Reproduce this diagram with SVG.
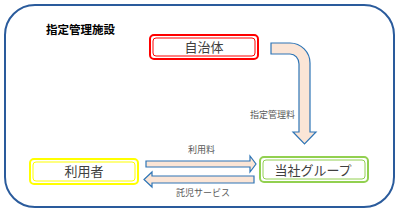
<svg xmlns="http://www.w3.org/2000/svg" width="400" height="212" viewBox="0 0 400 212">
<style>
.box{font-family:"Noto Sans CJK JP","Noto Sans",sans-serif;font-size:13px;fill:#404040;text-anchor:middle}
.lbl{font-family:"Noto Sans CJK JP","Noto Sans",sans-serif;font-size:9px;fill:#595959;text-anchor:middle}
.title{font-family:"Noto Sans CJK JP","Noto Sans",sans-serif;font-size:11.5px;font-weight:bold;fill:#000}
.arrow{fill:#fbe5d6;stroke:#2e75b6;stroke-width:1.2;stroke-linejoin:miter}
</style>
<rect width="400" height="212" fill="#fff"/>
<g id="frame">
<rect x="5" y="5" width="389" height="202" rx="30" ry="30" fill="none" stroke="#2a5b9c" stroke-width="2"/>
<text class="title" x="46" y="34">指定管理施設</text>
</g>
<g id="connectors">
<path class="arrow" d="M271,43 H290 A20,20 0 0 1 310,63 V132 H316 L304.5,144 L293,132 H299 V64 A9,10 0 0 0 290,54 H271 Z"/>
<path class="arrow" d="M146,161 H250 V156 L256,164 L250,172 V167 H146 Z"/>
<path class="arrow" d="M254,176 H152 V172 L144,179.5 L152,187 V183 H254 Z"/>
<text class="lbl" x="272.5" y="118">指定管理料</text>
<text class="lbl" x="201.5" y="153">利用料</text>
<text class="lbl" x="203" y="196">託児サービス</text>
</g>
<g id="jichitai">
<rect x="150" y="35" width="108" height="24" rx="4" fill="#fff" stroke="#ff0000" stroke-width="2"/>
<rect x="153" y="38" width="102" height="18" rx="3" fill="none" stroke="#ff0000" stroke-width="1"/>
<text class="box" x="204" y="52">自治体</text>
</g>
<g id="riyosha">
<rect x="30" y="159" width="108" height="25" rx="4" fill="#fff" stroke="#ffff00" stroke-width="2"/>
<rect x="33" y="162" width="102" height="19" rx="3" fill="none" stroke="#ffff00" stroke-width="1"/>
<text class="box" x="84" y="176">利用者</text>
</g>
<g id="tosha">
<rect x="260" y="157" width="108" height="25" rx="4" fill="#fff" stroke="#92d050" stroke-width="2"/>
<rect x="263" y="160" width="102" height="19" rx="3" fill="none" stroke="#92d050" stroke-width="1"/>
<text class="box" x="313" y="174.5">当社グループ</text>
</g>
</svg>
